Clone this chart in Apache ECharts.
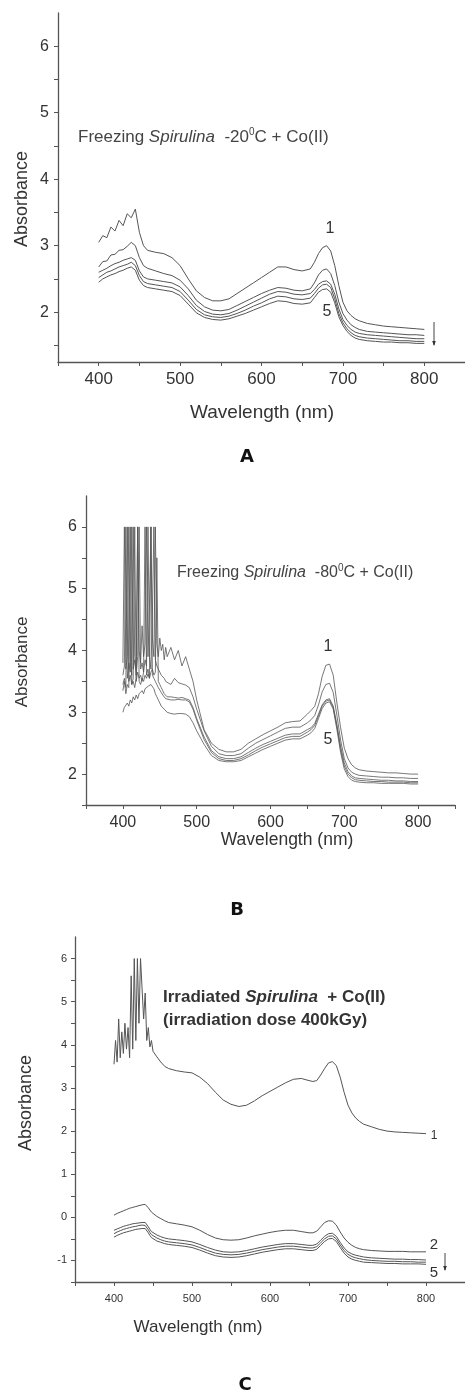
<!DOCTYPE html>
<html>
<head>
<meta charset="utf-8">
<script src="https://cdn.jsdelivr.net/npm/echarts@6/dist/echarts.min.js"></script>
<style>
  html, body { margin: 0; padding: 0; background: #fff; }
  #main { width: 465px; height: 1394px; }
</style>
</head>
<body>
<div id="main"></div>
<script>
// ---- panel A : freezing -20C ----
var wlA = [400,405,410,415,420,425,430,435,440,445,450,455,460,
  470,480,490,500,510,520,530,540,550,560,570,580,590,600,610,620,630,640,650,
  660,665,670,675,680,685,690,695,700,705,710,715,720,
  730,740,750,760,770,780,790,800];
var a1 = [3.05,3.15,3.12,3.28,3.22,3.38,3.3,3.48,3.42,3.55,3.2,3.0,2.93,
  2.9,2.88,2.82,2.7,2.5,2.32,2.22,2.17,2.17,2.2,2.28,2.36,2.44,2.52,2.6,2.68,2.68,2.64,2.62,
  2.65,2.75,2.88,2.97,3.0,2.92,2.7,2.4,2.15,2.02,1.95,1.9,1.87,
  1.83,1.81,1.79,1.78,1.77,1.76,1.75,1.74];
var a2 = [2.68,2.76,2.77,2.86,2.87,2.93,2.94,2.99,3.05,3.0,2.82,2.7,2.66,
  2.62,2.58,2.55,2.48,2.35,2.18,2.08,2.03,2.02,2.04,2.1,2.16,2.22,2.28,2.33,2.37,2.36,2.33,2.32,
  2.35,2.44,2.56,2.63,2.65,2.58,2.4,2.15,1.98,1.88,1.81,1.77,1.74,
  1.71,1.7,1.69,1.68,1.67,1.66,1.66,1.65];
var a3 = [2.6,2.63,2.66,2.7,2.73,2.75,2.78,2.8,2.82,2.78,2.62,2.53,2.5,
  2.48,2.46,2.44,2.38,2.25,2.1,2.01,1.97,1.96,1.98,2.03,2.09,2.15,2.21,2.27,2.31,2.3,2.27,2.26,
  2.28,2.34,2.42,2.46,2.47,2.42,2.27,2.05,1.89,1.8,1.74,1.7,1.68,
  1.66,1.65,1.64,1.63,1.62,1.61,1.6,1.6];
var a4 = [2.52,2.56,2.6,2.62,2.65,2.68,2.7,2.72,2.75,2.7,2.55,2.46,2.43,
  2.41,2.39,2.37,2.31,2.18,2.04,1.96,1.93,1.92,1.94,1.98,2.03,2.09,2.14,2.2,2.24,2.23,2.2,2.19,
  2.21,2.28,2.36,2.41,2.42,2.37,2.2,1.98,1.84,1.75,1.69,1.65,1.63,
  1.61,1.6,1.59,1.58,1.57,1.57,1.56,1.56];
var a5 = [2.45,2.5,2.53,2.56,2.58,2.61,2.63,2.66,2.68,2.63,2.48,2.4,2.37,
  2.35,2.33,2.31,2.25,2.12,1.99,1.92,1.89,1.88,1.9,1.94,1.98,2.03,2.08,2.13,2.17,2.16,2.13,2.12,
  2.14,2.22,2.3,2.34,2.35,2.3,2.14,1.93,1.8,1.71,1.65,1.61,1.59,
  1.57,1.56,1.55,1.55,1.54,1.54,1.53,1.53];

// ---- panel B : freezing -80C ----
var wlB = [400,402,404,406,408,410,412,414,416,418,420,422,424,426,428,430,
  432,434,436,438,440,442,444,446,448,450,452,454,456,458,460,
  465,470,475,480,485,490,495,500,
  510,520,530,540,550,560,570,580,590,600,610,620,630,640,650,
  655,660,665,670,675,680,685,690,695,700,705,710,715,720,
  730,740,750,760,770,780,790,800];
var b1 = [3.8,6,3.7,3.9,6,3.8,3.6,6,3.9,3.7,6,4.0,3.8,4.4,3.9,4.1,
  6,3.9,4.7,6,4.2,3.9,6,4.1,3.9,4.2,4.0,4.1,3.85,4.05,3.9,
  4.05,3.85,4.0,3.75,3.9,3.7,3.5,3.2,
  2.72,2.5,2.4,2.36,2.36,2.4,2.5,2.57,2.64,2.7,2.76,2.83,2.85,2.86,2.97,
  3.03,3.1,3.3,3.58,3.76,3.78,3.6,3.15,2.75,2.42,2.25,2.15,2.1,2.07,
  2.05,2.04,2.03,2.02,2.02,2.01,2.0,2.0];
var b2 = [3.6,3.75,6,3.55,3.8,3.65,6,3.7,3.85,3.6,3.9,6,3.7,3.8,3.65,3.85,
  3.75,6,3.9,3.7,4.6,6,3.85,3.75,3.7,3.65,3.6,3.62,3.55,3.5,3.48,
  3.45,3.55,3.48,3.46,3.44,3.4,3.25,3.05,
  2.7,2.45,2.33,2.3,2.3,2.33,2.42,2.5,2.56,2.62,2.68,2.74,2.76,2.76,2.83,
  2.88,2.95,3.12,3.33,3.45,3.47,3.32,2.95,2.55,2.25,2.1,2.03,2.0,1.98,
  1.97,1.96,1.95,1.95,1.94,1.94,1.93,1.93];
var b3 = [3.45,3.55,3.4,6,3.5,3.6,3.45,3.55,6,3.5,3.65,3.55,3.6,3.5,3.65,6,
  3.6,3.7,3.55,3.65,3.7,3.6,3.65,5.5,3.5,3.45,3.4,3.35,3.3,3.28,3.25,
  3.25,3.24,3.23,3.24,3.22,3.2,3.08,2.9,
  2.6,2.38,2.28,2.25,2.25,2.28,2.35,2.42,2.48,2.53,2.58,2.63,2.65,2.65,2.72,
  2.75,2.82,2.97,3.12,3.2,3.22,3.1,2.8,2.45,2.18,2.04,1.97,1.94,1.93,
  1.92,1.91,1.9,1.9,1.89,1.89,1.88,1.88];
var b4 = [3.35,3.5,3.3,3.45,3.4,6,3.45,3.5,3.4,3.55,6,3.5,3.45,3.55,3.5,3.6,
  3.55,3.62,3.55,6,3.6,3.55,3.5,3.45,3.4,3.38,3.32,3.28,3.25,3.22,3.22,
  3.2,3.2,3.21,3.2,3.2,3.17,3.05,2.87,
  2.56,2.35,2.25,2.22,2.22,2.25,2.31,2.38,2.44,2.49,2.54,2.59,2.61,2.61,2.68,
  2.72,2.79,2.94,3.1,3.18,3.2,3.08,2.77,2.4,2.13,2.0,1.94,1.91,1.9,
  1.89,1.88,1.88,1.87,1.87,1.87,1.86,1.86];
var b5 = [3.0,3.08,3.05,3.15,3.1,3.2,3.15,3.25,3.2,3.28,3.22,3.3,3.27,3.35,3.3,3.38,
  3.35,3.42,3.4,3.45,3.42,3.38,3.3,3.25,3.2,3.15,3.1,3.08,3.05,3.02,3.0,
  2.98,2.97,2.98,2.98,2.97,2.93,2.83,2.7,
  2.48,2.3,2.22,2.2,2.2,2.22,2.28,2.34,2.4,2.45,2.5,2.55,2.57,2.57,2.63,
  2.67,2.74,2.9,3.06,3.15,3.17,3.05,2.72,2.35,2.08,1.96,1.9,1.88,1.87,
  1.86,1.86,1.85,1.85,1.85,1.85,1.84,1.84];

// ---- panel C : irradiated 400 kGy ----
var wlC = [400,402,404,406,408,410,412,414,416,418,420,422,424,426,428,430,
  432,434,436,438,440,442,444,446,448,450,
  455,460,465,
  470,480,490,500,510,520,530,540,550,560,570,580,590,600,610,620,630,640,650,
  655,660,665,670,675,680,685,690,695,700,705,710,715,720,
  730,740,750,760,770,780,790,800];
var c1 = [3.55,4.1,3.6,4.6,3.7,4.3,3.8,4.5,3.9,4.4,3.7,5.6,3.9,6,4.1,6,
  4.5,6,6,4.6,5.2,4.1,4.4,3.95,4.1,3.85,
  3.72,3.6,3.5,
  3.45,3.4,3.37,3.35,3.25,3.1,2.9,2.72,2.62,2.57,2.6,2.7,2.82,2.92,3.02,3.12,3.2,3.22,3.17,
  3.15,3.17,3.3,3.45,3.58,3.61,3.52,3.25,2.9,2.6,2.42,2.3,2.22,2.16,
  2.1,2.04,2.0,1.98,1.97,1.96,1.95,1.94];
var c2 = [0.05,0.07,0.09,0.1,0.12,0.14,0.15,0.17,0.18,0.2,0.21,0.22,0.23,0.24,0.25,0.26,
  0.27,0.28,0.29,0.3,0.3,0.27,0.22,0.17,0.12,0.08,
  0.02,-0.03,-0.08,
  -0.12,-0.15,-0.18,-0.22,-0.3,-0.4,-0.48,-0.52,-0.53,-0.52,-0.48,-0.43,-0.39,-0.35,-0.32,-0.3,-0.3,-0.33,-0.36,
  -0.36,-0.32,-0.22,-0.12,-0.08,-0.09,-0.18,-0.34,-0.48,-0.58,-0.65,-0.7,-0.73,-0.75,
  -0.77,-0.78,-0.79,-0.79,-0.79,-0.8,-0.8,-0.8];
var c3 = [-0.3,-0.28,-0.27,-0.25,-0.24,-0.22,-0.21,-0.2,-0.19,-0.18,-0.17,-0.16,-0.15,-0.15,-0.14,-0.13,
  -0.13,-0.12,-0.12,-0.11,-0.12,-0.16,-0.22,-0.28,-0.33,-0.37,
  -0.41,-0.45,-0.48,
  -0.5,-0.52,-0.54,-0.57,-0.63,-0.7,-0.76,-0.8,-0.81,-0.8,-0.77,-0.73,-0.69,-0.66,-0.63,-0.61,-0.61,-0.63,-0.65,
  -0.65,-0.62,-0.53,-0.44,-0.38,-0.37,-0.44,-0.58,-0.71,-0.8,-0.85,-0.88,-0.9,-0.92,
  -0.94,-0.95,-0.96,-0.97,-0.97,-0.98,-0.98,-0.99];
var c4 = [-0.38,-0.36,-0.34,-0.33,-0.31,-0.3,-0.28,-0.27,-0.26,-0.25,-0.24,-0.23,-0.22,-0.21,-0.21,-0.2,
  -0.19,-0.19,-0.18,-0.18,-0.19,-0.23,-0.29,-0.35,-0.4,-0.44,
  -0.48,-0.52,-0.55,
  -0.57,-0.59,-0.61,-0.64,-0.7,-0.77,-0.83,-0.86,-0.87,-0.86,-0.83,-0.79,-0.75,-0.72,-0.69,-0.67,-0.67,-0.69,-0.71,
  -0.71,-0.68,-0.59,-0.5,-0.44,-0.43,-0.5,-0.64,-0.77,-0.86,-0.91,-0.94,-0.96,-0.98,
  -1.0,-1.01,-1.02,-1.02,-1.03,-1.03,-1.04,-1.04];
var c5 = [-0.46,-0.44,-0.42,-0.41,-0.39,-0.38,-0.36,-0.35,-0.34,-0.33,-0.32,-0.31,-0.3,-0.29,-0.28,-0.28,
  -0.27,-0.26,-0.26,-0.25,-0.26,-0.3,-0.36,-0.42,-0.47,-0.51,
  -0.55,-0.58,-0.61,
  -0.63,-0.65,-0.67,-0.7,-0.76,-0.83,-0.89,-0.92,-0.93,-0.92,-0.89,-0.85,-0.81,-0.78,-0.75,-0.73,-0.73,-0.75,-0.77,
  -0.77,-0.74,-0.65,-0.56,-0.5,-0.49,-0.56,-0.7,-0.83,-0.92,-0.97,-1.0,-1.02,-1.04,
  -1.05,-1.06,-1.07,-1.07,-1.08,-1.08,-1.08,-1.09];

// tick positions
var xLabels = [400, 500, 600, 700, 800];
var xTicks = [350, 400, 450, 500, 550, 600, 650, 700, 750, 800, 850];
var yLabelsAB = [2, 3, 4, 5, 6];
var yTicksA = [1.5, 2, 2.5, 3, 3.5, 4, 4.5, 5, 5.5, 6];
var yTicksB = [1.5, 2, 2.5, 3, 3.5, 4, 4.5, 5, 5.5, 6];
var yLabelsC = [-1, 0, 1, 2, 3, 4, 5, 6];
var yTicksC = [-1.5, -1, -0.5, 0, 0.5, 1, 1.5, 2, 2.5, 3, 3.5, 4, 4.5, 5, 5.5, 6];

var FONT = 'Liberation Sans';
var AXIS_COLOR = '#555';
var LINE_COLOR = '#555';

function pairs(wl, ys) {
  return wl.map(function (x, i) { return [x, ys[i]]; });
}

function xAxisFor(grid, fs, margin) {
  return {
    type: 'value', gridIndex: grid, min: 350, max: 850,
    axisLine: { onZero: false, lineStyle: { color: AXIS_COLOR, width: 1.3 } },
    axisTick: { customValues: xTicks, length: 4, lineStyle: { color: AXIS_COLOR } },
    axisLabel: { customValues: xLabels, color: '#333', fontSize: fs, fontFamily: FONT, margin: margin },
    splitLine: { show: false }
  };
}
function yAxisFor(grid, min, labels, ticks, fs, margin) {
  return {
    type: 'value', gridIndex: grid, min: min, max: 6.5,
    axisLine: { show: true, onZero: false, lineStyle: { color: AXIS_COLOR, width: 1.3 } },
    axisTick: { customValues: ticks, length: 4, lineStyle: { color: AXIS_COLOR } },
    axisLabel: { customValues: labels, color: '#333', fontSize: fs, fontFamily: FONT, margin: margin },
    splitLine: { show: false }
  };
}
function line(grid, wl, ys, w) {
  return {
    type: 'line', xAxisIndex: grid, yAxisIndex: grid, data: pairs(wl, ys),
    symbol: 'none', silent: true,
    lineStyle: { color: LINE_COLOR, width: w || 1 }
  };
}

function txt(x, y, s, opt) {
  opt = opt || {};
  return {
    type: 'text', x: x, y: y, rotation: opt.rot || 0,
    style: {
      text: s, fill: opt.color || '#333', font: (opt.weight || 'normal') + ' ' + (opt.size || 16) + 'px "' + (opt.family || FONT) + '"',
      align: opt.align || 'center', verticalAlign: 'middle'
    }
  };
}
function arrow(x, y0, y1) {
  return [
    { type: 'line', shape: { x1: x, y1: y0, x2: x, y2: y1 }, style: { stroke: '#444', lineWidth: 1 } },
    { type: 'polygon', shape: { points: [[x - 1.8, y1 - 4], [x + 1.8, y1 - 4], [x, y1 + 1]] }, style: { fill: '#333' } }
  ];
}

var richA = {
  it: { fontStyle: 'italic', fontFamily: FONT, fontSize: 17, fill: '#444' },
  n: { fontFamily: FONT, fontSize: 17, fill: '#444' },
  sup: { fontFamily: FONT, fontSize: 10, fill: '#444', padding: [0, 0, 10, 0] }
};
var richB = {
  it: { fontStyle: 'italic', fontFamily: FONT, fontSize: 16, fill: '#444' },
  n: { fontFamily: FONT, fontSize: 16, fill: '#444' },
  sup: { fontFamily: FONT, fontSize: 10, fill: '#444', padding: [0, 0, 10, 0] }
};
var richC = {
  it: { fontStyle: 'italic', fontWeight: 'bold', fontFamily: FONT, fontSize: 17, fill: '#333' },
  n: { fontWeight: 'bold', fontFamily: FONT, fontSize: 17, fill: '#333' }
};

var chart = echarts.init(document.getElementById('main'), null, { renderer: 'canvas' });

var graphics = [
  // axis titles
  txt(22, 199, 'Absorbance', { rot: Math.PI / 2, size: 18 }),
  txt(262, 413, 'Wavelength (nm)', { size: 19 }),
  txt(22, 662, 'Absorbance', { rot: Math.PI / 2, size: 17 }),
  txt(287, 840, 'Wavelength (nm)', { size: 17.5 }),
  txt(26, 1103, 'Absorbance', { rot: Math.PI / 2, size: 18 }),
  txt(198, 1327, 'Wavelength (nm)', { size: 17 }),
  // panel letters
  txt(247, 457, 'A', { weight: 'bold', size: 18, family: 'DejaVu Sans', color: '#111' }),
  txt(237, 910, 'B', { weight: 'bold', size: 18, family: 'DejaVu Sans', color: '#111' }),
  txt(245, 1385, 'C', { weight: 'bold', size: 18, family: 'DejaVu Sans', color: '#111' }),
  // annotations
  { type: 'text', x: 78, y: 137, style: { text: '{n|Freezing }{it|Spirulina}{n|  -20}{sup|0}{n|C + Co(II)}', rich: richA, verticalAlign: 'middle' } },
  { type: 'text', x: 177, y: 573, style: { text: '{n|Freezing }{it|Spirulina}{n|  -80}{sup|0}{n|C + Co(II)}', rich: richB, verticalAlign: 'middle' } },
  { type: 'text', x: 163, y: 997, style: { text: '{n|Irradiated }{it|Spirulina}{n|  + Co(II)}', rich: richC, verticalAlign: 'middle' } },
  { type: 'text', x: 163, y: 1020, style: { text: '{n|(irradiation dose 400kGy)}', rich: richC, verticalAlign: 'middle' } },
  // curve numbers
  txt(330, 229, '1', { size: 16 }),
  txt(327, 312, '5', { size: 16 }),
  txt(328, 647, '1', { size: 16 }),
  txt(328, 740, '5', { size: 16 }),
  txt(434, 1136, '1', { size: 12 }),
  txt(434, 1245, '2', { size: 15 }),
  txt(434, 1273, '5', { size: 15 })
].concat(arrow(434, 322, 345), arrow(445, 1253, 1270));

chart.setOption({
  animation: false,
  backgroundColor: '#fff',
  grid: [
    { left: 58, top: 13, width: 407, height: 349 },
    { left: 86, top: 496, width: 369, height: 309 },
    { left: 75, top: 937, width: 390, height: 345 }
  ],
  xAxis: [xAxisFor(0, 17, 9), xAxisFor(1, 16, 10), xAxisFor(2, 11, 11)],
  yAxis: [
    yAxisFor(0, 1.25, yLabelsAB, yTicksA, 16, 9),
    yAxisFor(1, 1.5, yLabelsAB, yTicksB, 16, 9),
    yAxisFor(2, -1.5, yLabelsC, yTicksC, 11, 8)
  ],
  series: [
    line(0, wlA, a1), line(0, wlA, a2), line(0, wlA, a3), line(0, wlA, a4), line(0, wlA, a5),
    line(1, wlB, b1, 0.8), line(1, wlB, b2, 0.8), line(1, wlB, b3, 0.8), line(1, wlB, b4, 0.8), line(1, wlB, b5, 0.8),
    line(2, wlC, c1), line(2, wlC, c2), line(2, wlC, c3), line(2, wlC, c4), line(2, wlC, c5)
  ],
  graphic: graphics
});
</script>
</body>
</html>
